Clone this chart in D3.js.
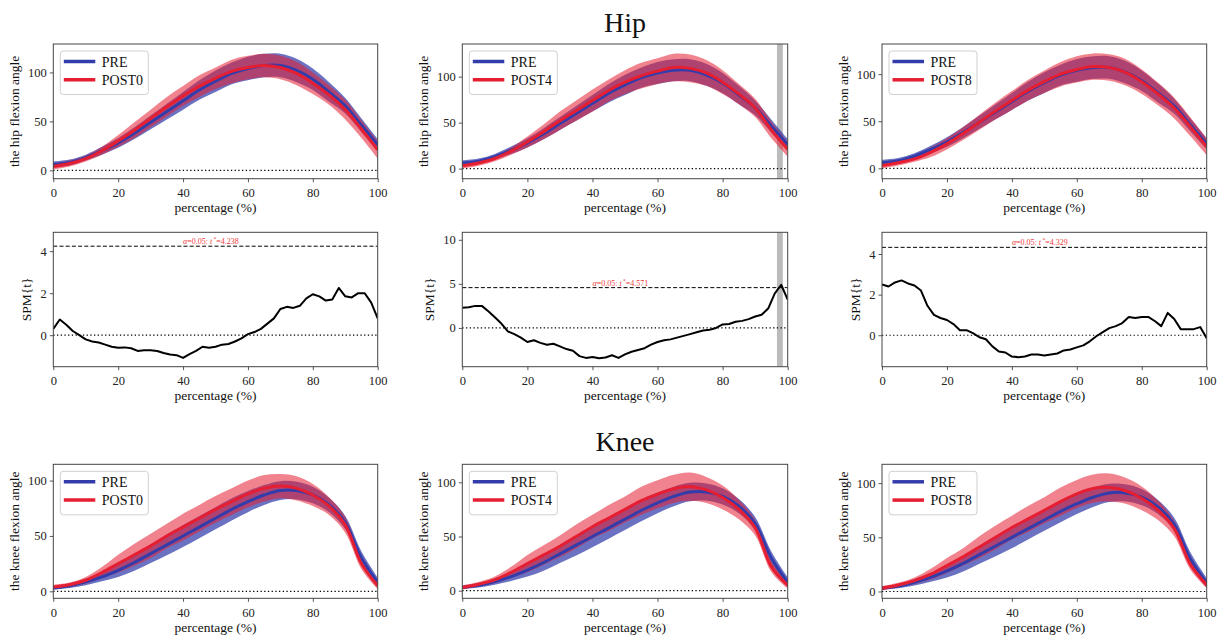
<!DOCTYPE html>
<html>
<head>
<meta charset="utf-8">
<script src="https://cdn.jsdelivr.net/npm/d3@7"></script>
<style>
  html, body { margin: 0; padding: 0; background: #fff; }
  svg { display: block; font-family: "Liberation Serif", "Times New Roman", serif; }
</style>
</head>
<body>
<svg id="chart" width="1225" height="635"></svg>
<script>
// ---------------- DATA ----------------
const pct5 = [0,5,10,15,20,25,30,35,40,45,50,55,60,65,70,75,80,85,90,95,100];
const pct2 = [0,2,4,6,8,10,12,14,16,18,20,22,24,26,28,30,32,34,36,38,40,42,44,46,48,50,
              52,54,56,58,60,62,64,66,68,70,72,74,76,78,80,82,84,86,88,90,92,94,96,98,100];
const xTicks = [0,20,40,60,80,100];
const groupLabels = ["PRE", "POST0", "POST4", "POST8"];
const rowTitles = ["Hip", "Knee"];

// Hip flexion angle (mean and SD) at pct5
const hipPreMean   = [6,8,13,20,28,38,49,60,71,82,91,99,104,107,107,102,93,80,66,46,26];
const hipPreSd     = [3,3,3,4,5,6,7,8,9,10,11,11,12,12,12,12,11,10,8,7,6];
const hipPost0Mean = [4,7,12,20,30,41,53,65,76,86,94,101,105,107,105,99,89,77,62,42,21];
const hipPost0Sd   = [3,3,3,4,6,8,9,10,10,11,11,12,12,12,12,12,11,10,10,9,9];
const hipPost4Mean = [3,6,11,19,29,40,52,63,74,85,94,101,106,110,109,104,94,81,66,42,21];
const hipPost4Sd   = [3,3,3,4,6,8,10,11,12,12,13,14,14,15,15,14,13,11,10,9,8];
const hipPost8Mean = [3,6,10,17,26,37,49,61,72,83,92,100,105,108,107,102,92,79,64,44,23];
const hipPost8Sd   = [3,3,3,5,6,7,8,9,10,11,12,13,14,14,14,14,13,12,11,10,9];

// Knee flexion angle (mean and SD) at pct5
const kneePreMean   = [3,5,8.5,13,19,26,34,42,50,58,66,74,81,87,91,91,87,78,62,30,8];
const kneePreSd     = [1.5,2,3,4,6,7.5,8.5,9.5,10,10,10,10,9.5,9,8.5,8,7.5,6.5,6,6,4.5];
const kneePost0Mean = [4,6,10,17,25,33,41,50,58,66,74,81,88,93,95,93,87,77,60,25,5];
const kneePost0Sd   = [2,2,3,5,8,10,11,11,12,12,12,12,12,12,11,11,10,8,7,5,3];
const kneePost4Mean = [3,6,10,17,25,33,41,50,59,67,75,83,89,94,96,93,86,75,58,22,5];
const kneePost4Sd   = [2,2,3,5,8,9,10,11,11,12,12,13,13,13,13,12,11,9,7,5,3];
const kneePost8Mean = [3,6,10,16,24,32,41,50,59,67,75,83,90,95,96,93,86,75,58,25,6];
const kneePost8Sd   = [2,2,3,5,7,8,10,11,11,12,12,13,13,13,13,12,11,9,7,5,3];

// SPM{t} trajectories (hip) at pct2
const spmPost0 = [0.3,0.75,0.5,0.2,0.0,-0.2,-0.3,-0.35,-0.45,-0.55,-0.6,-0.58,-0.62,-0.75,-0.72,-0.72,
                  -0.75,-0.85,-0.92,-0.95,-1.08,-0.9,-0.75,-0.55,-0.6,-0.55,-0.45,-0.42,-0.3,-0.15,0.05,
                  0.15,0.3,0.55,0.8,1.25,1.35,1.3,1.4,1.75,1.95,1.85,1.65,1.7,2.25,1.85,1.8,2.0,2.0,1.55,0.8];
const spmPost4 = [2.3,2.35,2.5,2.5,1.9,1.2,0.5,-0.4,-0.7,-1.1,-1.6,-1.4,-1.7,-1.9,-1.8,-2.1,-2.4,-2.6,
                  -3.2,-3.4,-3.3,-3.45,-3.35,-3.1,-3.4,-3.0,-2.7,-2.5,-2.3,-1.9,-1.6,-1.4,-1.3,-1.1,-0.9,
                  -0.7,-0.5,-0.3,-0.2,0.0,0.4,0.45,0.7,0.8,1.0,1.3,1.5,2.2,3.9,4.9,3.2];
const spmPost8 = [2.5,2.4,2.6,2.7,2.55,2.45,2.2,1.45,1.0,0.85,0.75,0.55,0.25,0.25,0.1,-0.1,-0.2,-0.55,
                  -0.8,-0.85,-1.05,-1.08,-1.05,-0.95,-0.95,-1.0,-0.95,-0.9,-0.75,-0.7,-0.6,-0.5,-0.3,-0.05,
                  0.15,0.35,0.45,0.6,0.9,0.85,0.9,0.9,0.7,0.45,1.1,0.8,0.3,0.3,0.3,0.4,-0.15];
const spmThresholds = [4.238, 4.571, 4.329];
const sigCluster = [96.7, 98.5];   // supra-threshold region for POST4 (hip)

// ---------------- LAYOUT ----------------
const svg = d3.select("#chart");
const cols = [{x0: 53.3, x1: 377.7}, {x0: 462.3, x1: 787.7}, {x0: 882, x1: 1206.7}];
const rows = {hip: {y0: 44, y1: 178.7}, spm: {y0: 232.3, y1: 366.7}, knee: {y0: 464.3, y1: 598.3}};

const C_BLUE = "#323caa", C_RED = "#e61e32";
const FRAME = "#444";

function makeAxes(col, row, yDomain, yTicks, ylabel) {
  const x = d3.scaleLinear().domain([0, 100]).range([col.x0, col.x1]);
  const y = d3.scaleLinear().domain(yDomain).range([row.y1, row.y0]);
  const g = svg.append("g");
  const clipId = "clip" + Math.round(col.x0) + "_" + Math.round(row.y0);
  svg.append("clipPath").attr("id", clipId).append("rect")
    .attr("x", col.x0).attr("y", row.y0).attr("width", col.x1 - col.x0).attr("height", row.y1 - row.y0);
  const plot = g.append("g").attr("clip-path", `url(#${clipId})`);

  const xa = g.append("g").attr("transform", `translate(0,${row.y1})`)
    .call(d3.axisBottom(x).tickValues(xTicks).tickSize(3.5).tickPadding(3).tickFormat(d3.format("d")));
  const ya = g.append("g").attr("transform", `translate(${col.x0},0)`)
    .call(d3.axisLeft(y).tickValues(yTicks).tickSize(3.5).tickPadding(3).tickFormat(d3.format("d")));
  [xa, ya].forEach(a => {
    a.select(".domain").remove();
    a.selectAll(".tick line").attr("stroke", FRAME).attr("stroke-width", 0.9);
    a.selectAll(".tick text").attr("fill", "#222").style("font-size", "12.5px")
      .style("font-family", "'Liberation Serif', serif");
  });
  xa.selectAll(".tick text").attr("dy", "0.95em");

  g.append("rect").attr("x", col.x0).attr("y", row.y0)
    .attr("width", col.x1 - col.x0).attr("height", row.y1 - row.y0)
    .attr("fill", "none").attr("stroke", FRAME).attr("stroke-width", 1);

  g.append("text").attr("x", (col.x0 + col.x1) / 2).attr("y", row.y1 + 33.5)
    .attr("text-anchor", "middle").style("font-size", "13.5px").attr("fill", "#111")
    .text("percentage (%)");
  const tickW = d3.max(ya.selectAll(".tick text").nodes(), n => n.getBBox().width);
  const lx = col.x0 - 3.5 - 3 - tickW - 9;
  const ly = (row.y0 + row.y1) / 2;
  g.append("text").attr("transform", `translate(${lx},${ly}) rotate(-90)`)
    .attr("text-anchor", "middle").style("font-size", "13.5px").attr("fill", "#111")
    .text(ylabel);
  return {x, y, g, plot};
}

function zeroLine(ax) {
  ax.plot.append("line").attr("x1", ax.x(0)).attr("x2", ax.x(100))
    .attr("y1", ax.y(0)).attr("y2", ax.y(0))
    .attr("stroke", "#000").attr("stroke-width", 1.2).attr("stroke-dasharray", "1.3,2.4");
}

function sigBand(ax) {
  ax.plot.append("rect").attr("x", ax.x(sigCluster[0])).attr("y", ax.y.range()[1])
    .attr("width", ax.x(sigCluster[1]) - ax.x(sigCluster[0]))
    .attr("height", ax.y.range()[0] - ax.y.range()[1])
    .attr("fill", "#bbbbbb");
}

const curve = d3.curveCatmullRom.alpha(0.5);

function anglePanel(col, row, yDomain, preM, preS, postM, postS, postLabel, ylabel, sig) {
  const ax = makeAxes(col, row, yDomain, [0, 50, 100], ylabel);
  if (sig) sigBand(ax);
  zeroLine(ax);
  const area = (m, s) => d3.area().curve(curve)
    .x((d, i) => ax.x(pct5[i])).y0((d, i) => ax.y(m[i] - s[i])).y1((d, i) => ax.y(m[i] + s[i]))(m);
  const line = m => d3.line().curve(curve).x((d, i) => ax.x(pct5[i])).y(d => ax.y(d))(m);
  ax.plot.append("path").attr("d", area(preM, preS)).attr("fill", C_BLUE).attr("fill-opacity", 0.72);
  ax.plot.append("path").attr("d", area(postM, postS)).attr("fill", C_RED).attr("fill-opacity", 0.55);
  ax.plot.append("path").attr("d", line(preM)).attr("fill", "none").attr("stroke", C_BLUE).attr("stroke-width", 3);
  ax.plot.append("path").attr("d", line(postM)).attr("fill", "none").attr("stroke", C_RED).attr("stroke-width", 3);

  const lg = ax.g.append("g").attr("transform", `translate(${col.x0 + 7},${row.y0 + 7})`);
  lg.append("rect").attr("width", 88).attr("height", 43.5).attr("rx", 3)
    .attr("fill", "#fff").attr("fill-opacity", 0.85).attr("stroke", "#d0d0d0").attr("stroke-width", 1);
  [[groupLabels[0], C_BLUE], [postLabel, C_RED]].forEach((e, i) => {
    const yy = 10.5 + i * 18.3;
    lg.append("line").attr("x1", 3.5).attr("x2", 35).attr("y1", yy).attr("y2", yy)
      .attr("stroke", e[1]).attr("stroke-width", 3.5);
    lg.append("text").attr("x", 41.5).attr("y", yy + 5).style("font-size", "14px").attr("fill", "#111").text(e[0]);
  });
}

function spmPanel(col, row, yDomain, yTicks, t, thr, sig) {
  const ax = makeAxes(col, row, yDomain, yTicks, "SPM{t}");
  if (sig) sigBand(ax);
  zeroLine(ax);
  ax.plot.append("line").attr("x1", ax.x(0)).attr("x2", ax.x(100))
    .attr("y1", ax.y(thr)).attr("y2", ax.y(thr))
    .attr("stroke", "#000").attr("stroke-width", 1).attr("stroke-dasharray", "4,2.2");
  const tx = ax.g.append("text").attr("x", ax.x(40)).attr("y", ax.y(thr) - 2)
    .style("font-size", "8px").attr("fill", "#f03c3c");
  tx.append("tspan").style("font-style", "italic").text("α");
  tx.append("tspan").text("=0.05:  ");
  tx.append("tspan").style("font-style", "italic").text("t");
  tx.append("tspan").attr("dy", -3).style("font-size", "5.5px").text(" *");
  tx.append("tspan").attr("dy", 3).text("=" + thr.toFixed(3));
  ax.plot.append("path")
    .attr("d", d3.line().x((d, i) => ax.x(pct2[i])).y(d => ax.y(d))(t))
    .attr("fill", "none").attr("stroke", "#000").attr("stroke-width", 2).attr("stroke-linejoin", "round");
}

svg.append("text").attr("x", (cols[1].x0 + cols[1].x1) / 2).attr("y", 32)
  .attr("text-anchor", "middle").style("font-size", "28px").attr("fill", "#111").text(rowTitles[0]);
svg.append("text").attr("x", (cols[1].x0 + cols[1].x1) / 2).attr("y", 451)
  .attr("text-anchor", "middle").style("font-size", "28px").attr("fill", "#111").text(rowTitles[1]);

anglePanel(cols[0], rows.hip, [-8.5, 129], hipPreMean, hipPreSd, hipPost0Mean, hipPost0Sd, groupLabels[1], "the hip flexion angle", false);
anglePanel(cols[1], rows.hip, [-11, 135.5], hipPreMean, hipPreSd, hipPost4Mean, hipPost4Sd, groupLabels[2], "the hip flexion angle", true);
anglePanel(cols[2], rows.hip, [-11, 132], hipPreMean, hipPreSd, hipPost8Mean, hipPost8Sd, groupLabels[3], "the hip flexion angle", false);

spmPanel(cols[0], rows.spm, [-1.5, 4.9], [0, 2, 4], spmPost0, spmThresholds[0], false);
spmPanel(cols[1], rows.spm, [-4.4, 10.85], [0, 5, 10], spmPost4, spmThresholds[1], true);
spmPanel(cols[2], rows.spm, [-1.55, 5.07], [0, 2, 4], spmPost8, spmThresholds[2], false);

anglePanel(cols[0], rows.knee, [-6.3, 114.7], kneePreMean, kneePreSd, kneePost0Mean, kneePost0Sd, groupLabels[1], "the knee flexion angle", false);
anglePanel(cols[1], rows.knee, [-7, 116.6], kneePreMean, kneePreSd, kneePost4Mean, kneePost4Sd, groupLabels[2], "the knee flexion angle", false);
anglePanel(cols[2], rows.knee, [-6.3, 117.4], kneePreMean, kneePreSd, kneePost8Mean, kneePost8Sd, groupLabels[3], "the knee flexion angle", false);
</script>
</body>
</html>
